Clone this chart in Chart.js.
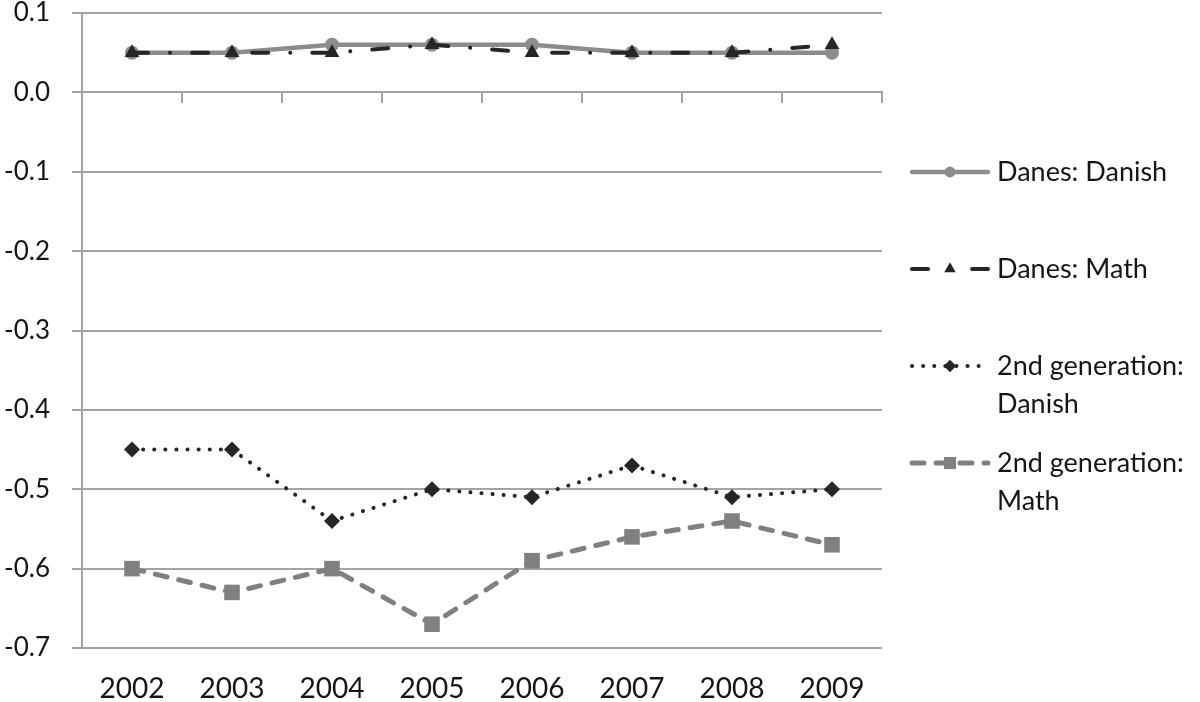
<!DOCTYPE html>
<html>
<head>
<meta charset="utf-8">
<script src="https://cdn.jsdelivr.net/npm/chart.js@4.4.0/dist/chart.umd.min.js"></script>
<style>
html,body{margin:0;padding:0;background:#ffffff;}
canvas{display:block;}
</style>
</head>
<body>
<canvas id="c" width="1200" height="702"></canvas>
<script>
// ---- data ----
const years = ['2002','2003','2004','2005','2006','2007','2008','2009'];
const danesDanish     = [0.05, 0.05, 0.06, 0.06, 0.06, 0.05, 0.05, 0.05];
const danesMath       = [0.05, 0.05, 0.05, 0.06, 0.05, 0.05, 0.05, 0.06];
const secondGenDanish = [-0.45, -0.45, -0.54, -0.50, -0.51, -0.47, -0.51, -0.50];
const secondGenMath   = [-0.60, -0.63, -0.60, -0.67, -0.59, -0.56, -0.54, -0.57];
const seriesLabels = ['Danes: Danish', 'Danes: Math', '2nd generation: Danish', '2nd generation: Math'];
const yMin = -0.7, yMax = 0.1, yStep = 0.1;

// ---- style ----
const FONT = 'Lato, "Liberation Sans", sans-serif';
const GRID = '#a4a4a4';
const TEXT = '#151515';
const LIGHT = '#8c8c8c';
const DARK = '#262626';

const sideLegend = {
  id: 'sideLegend',
  afterDraw(chart) {
    const ctx = chart.ctx;
    const area = chart.chartArea;
    const x0 = area.right + 30, x1 = x0 + 76, xm = (x0 + x1) / 2, tx = x1 + 9;
    const maxW = chart.width - tx - 4;
    const slot = 97, lineH = 38;
    const startY = area.top + 159;
    ctx.save();
    ctx.font = '27px ' + FONT;
    chart.data.datasets.forEach((ds, i) => {
      const y = startY + i * slot;
      // sample line
      ctx.save();
      ctx.strokeStyle = ds.borderColor;
      ctx.lineWidth = ds.borderWidth;
      ctx.lineCap = ds.borderCapStyle || 'butt';
      ctx.setLineDash(ds.borderDash || []);
      ctx.beginPath();
      ctx.moveTo(x0, y);
      ctx.lineTo(x1, y);
      ctx.stroke();
      ctx.setLineDash([]);
      ctx.fillStyle = ds.pointBackgroundColor;
      Chart.helpers.drawPoint(ctx, {pointStyle: ds.pointStyle, radius: ds.pointRadius * 0.78, rotation: 0, borderWidth: 0}, xm, y);
      ctx.restore();
      // label, wrapped
      const words = ds.label.split(' ');
      const lines = [];
      let cur = '';
      words.forEach(w => {
        const t = cur ? cur + ' ' + w : w;
        if (cur && ctx.measureText(t).width > maxW) { lines.push(cur); cur = w; }
        else cur = t;
      });
      if (cur) lines.push(cur);
      ctx.fillStyle = TEXT;
      ctx.textAlign = 'left';
      ctx.textBaseline = 'middle';
      lines.forEach((ln, k) => ctx.fillText(ln, tx, y + k * lineH));
    });
    ctx.restore();
  }
};

new Chart(document.getElementById('c'), {
  type: 'line',
  data: {
    labels: years,
    datasets: [
      {
        label: seriesLabels[0], data: danesDanish, order: 2,
        borderColor: LIGHT, backgroundColor: LIGHT, borderWidth: 4.5, borderCapStyle: 'round',
        pointStyle: 'circle', pointRadius: 7, pointBackgroundColor: LIGHT, pointBorderWidth: 0
      },
      {
        label: seriesLabels[1], data: danesMath, order: 1,
        borderColor: DARK, backgroundColor: DARK, borderWidth: 4, borderCapStyle: 'round',
        borderDash: [16, 22, 0.1, 22],
        pointStyle: 'triangle', pointRadius: 8.5, pointBackgroundColor: DARK, pointBorderWidth: 0
      },
      {
        label: seriesLabels[2], data: secondGenDanish, order: 3,
        borderColor: DARK, backgroundColor: DARK, borderWidth: 4, borderCapStyle: 'round',
        borderDash: [0.1, 11],
        pointStyle: 'rectRot', pointRadius: 8, pointBackgroundColor: DARK, pointBorderWidth: 0
      },
      {
        label: seriesLabels[3], data: secondGenMath, order: 4,
        borderColor: '#808080', backgroundColor: '#808080', borderWidth: 5, borderCapStyle: 'round',
        borderDash: [12, 12],
        pointStyle: 'rect', pointRadius: 11, pointBackgroundColor: '#808080', pointBorderWidth: 0
      }
    ]
  },
  options: {
    responsive: false,
    animation: false,
    events: [],
    layout: { padding: { top: 0, right: 318, left: 0, bottom: 0 } },
    plugins: { legend: { display: false }, tooltip: { enabled: false } },
    scales: {
      x: {
        type: 'category', position: 'bottom', offset: true,
        grid: { display: false, drawTicks: false },
        border: { display: false },
        ticks: { color: TEXT, font: { family: FONT, size: 28 }, padding: 24, maxRotation: 0, autoSkip: false },
        afterFit(s) { s.height = 54; }
      },
      x2: {
        type: 'category', axis: 'x', position: { y: 0 }, offset: true,
        grid: { offset: true, drawOnChartArea: false, drawTicks: true, tickLength: 10, color: GRID, lineWidth: 2 },
        border: { display: true, color: GRID, width: 2 },
        ticks: { display: false }
      },
      y: {
        position: 'left', min: yMin, max: yMax,
        ticks: {
          stepSize: yStep, color: TEXT, font: { family: FONT, size: 26 }, padding: 22,
          callback: v => { const r = Math.round(v * 10) / 10; return (Math.abs(r) < 1e-9 ? 0 : r).toFixed(1); }
        },
        grid: { color: GRID, lineWidth: 2, tickLength: 10, drawTicks: true },
        border: { display: true, color: GRID, width: 2 },
        afterFit(s) { s.width = 82; s.paddingTop = 13; s.paddingBottom = 0; }
      }
    }
  },
  plugins: [sideLegend]
});
</script>
</body>
</html>
